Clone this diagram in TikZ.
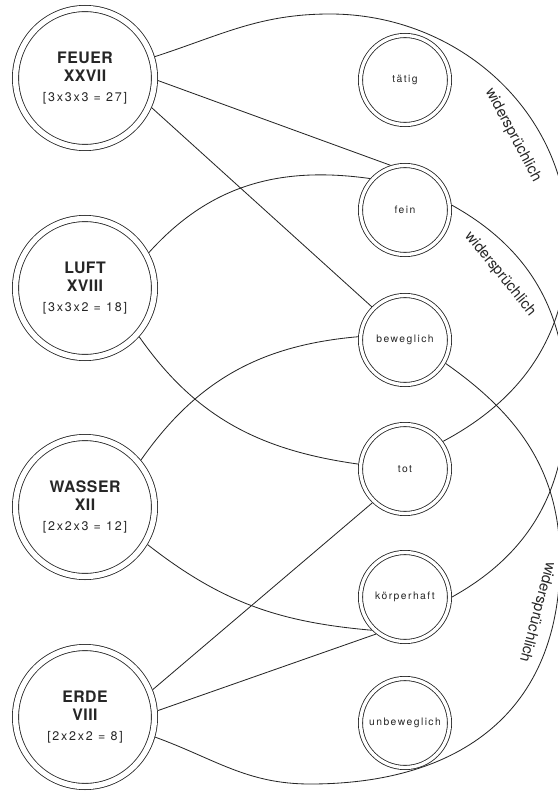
\documentclass[tikz,border=0pt]{standalone}
\usepackage{fontspec}
\setmainfont{TeX Gyre Heros}
\newfontfamily\titlefont[LetterSpace=3]{TeX Gyre Heros}
\newfontfamily\spacedfont[LetterSpace=14]{TeX Gyre Heros}
\newcommand{\formula}[1]{{\spacedfont\mdseries\fontsize{7.5}{8}\selectfont #1}}

\begin{document}
\begin{tikzpicture}[x=0.6pt, y=-0.6pt, line width=0.5pt, color=black!85,
    element/.style={circle, draw, double, double distance=3.2pt, minimum size=83.4pt,
        outer sep=2.1pt, inner sep=0pt, align=center,
        font=\titlefont\fontsize{9.5}{10.8}\selectfont\bfseries},
    quality/.style={circle, draw, double, double distance=2pt, minimum size=53.4pt,
        outer sep=1.5pt, inner sep=0pt, font=\spacedfont\fontsize{6.2}{7}\selectfont},
    contra/.style={font=\fontsize{9}{10}\selectfont}]
    \useasboundingbox (0,0) rectangle (558,791);
    \clip (0,0) rectangle (558,791);

    % elements
    \node[element] (feuer) at (85,78) {FEUER\\XXVII\\[1pt]\formula{[3x3x3 = 27]}};
    \node[element] (luft) at (85,288) {LUFT\\XVIII\\[1pt]\formula{[3x3x2 = 18]}};
    \node[element] (wasser) at (85,507) {WASSER\\XII\\[1pt]\formula{[2x2x3 = 12]}};
    \node[element] (erde) at (85,717) {ERDE\\VIII\\[1pt]\formula{[2x2x2 = 8]}};

    % qualities
    \node[quality] (taetig) at (405,80) {tätig};
    \node[quality] (fein) at (405,210) {fein};
    \node[quality] (bewegl) at (405,340) {beweglich};
    \node[quality] (tot) at (405,469) {tot};
    \node[quality] (koerper) at (405,597) {körperhaft};
    \node[quality] (unbewegl) at (405,723) {unbeweglich};

    \coordinate (aTop) at (330,14);
    \coordinate (aRim) at (568,240);
    \coordinate (bRim) at (566,401);
    \coordinate (cRim) at (560,560);
    \coordinate (cLow) at (310,784);

    \draw
    (feuer.-2) -- (fein.108)
    (feuer.-24) -- (bewegl.135)
    (erde.22) -- (tot.226)
    (erde.5) -- (koerper.232);
    \draw (luft.29) to[out=48,in=172] (fein.138);
    \draw (luft.-42) to[out=-55,in=172] (tot.174);
    \draw (wasser.40) to[out=55,in=185] (bewegl.176);
    \draw (wasser.-31) to[out=-38,in=175] (koerper.225);

    % contradictions
    \draw (feuer.17) to[out=18,in=180] (aTop) to[out=0,in=90] (aRim) to[out=-90,in=28] (tot.36);
    \draw (fein.6) to[out=-29,in=90] (bRim) to[out=-90,in=29] (koerper.0);
    \draw (bewegl.-30) to[out=-35,in=90] (cRim) to[out=-90,in=0,looseness=1.15] (cLow)
        to[out=180,in=-20] (erde.-16);
    \node[contra, rotate=-62] (w1) at (513,135) {widersprüchlich};
    \node[contra, rotate=-51] (w2) at (500,274) {widersprüchlich};
    \node[contra, rotate=-105] (w3) at (537,612) {widersprüchlich};
\end{tikzpicture}
\end{document}
